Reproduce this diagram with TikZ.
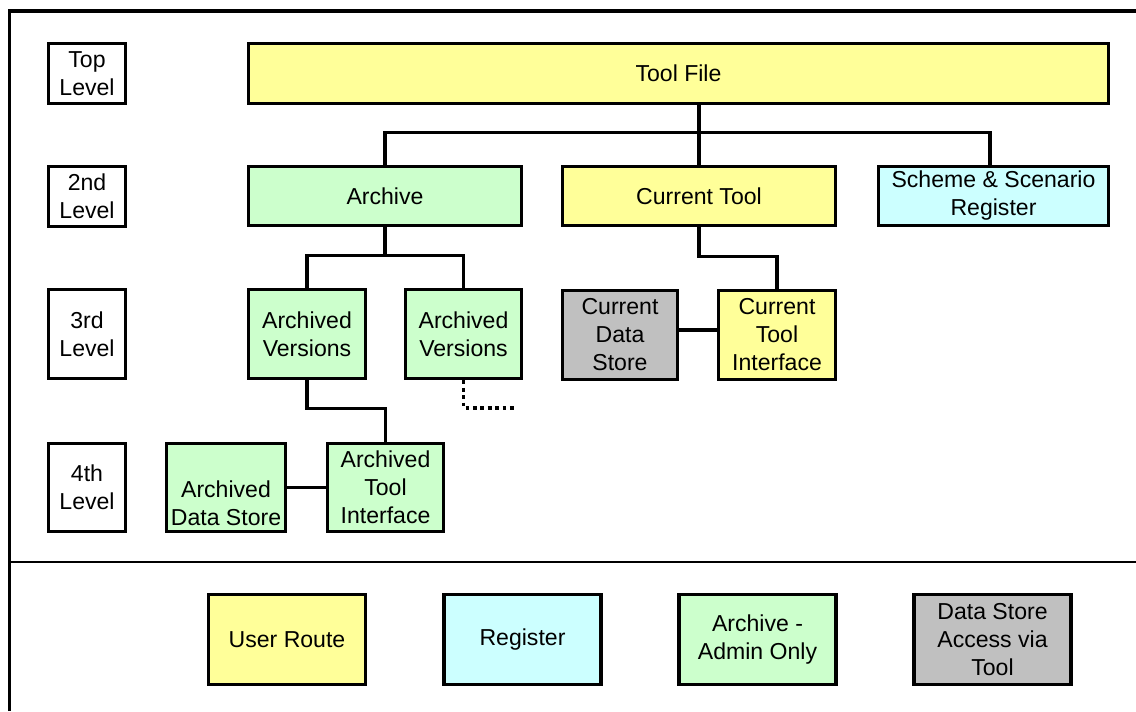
\documentclass[tikz,border=0pt]{standalone}
\usepackage{fontspec}
\setmainfont{Liberation Sans}
\newdimen\pxu \pxu=0.75pt
\definecolor{uyellow}{HTML}{FFFF99}
\definecolor{ugreen}{HTML}{CCFFCC}
\definecolor{ucyan}{HTML}{CCFFFF}
\definecolor{ugray}{HTML}{C0C0C0}
\tikzset{
  box/.style={draw=black, line width=3.8\pxu, inner sep=0pt, align=center,
    font=\fontsize{17.3pt}{21pt}\selectfont},
  lvl/.style={box, fill=white, minimum width=77\pxu},
  ybox/.style={box, fill=uyellow},
  gbox/.style={box, fill=ugreen},
  cbox/.style={box, fill=ucyan},
  grbox/.style={box, fill=ugray},
  conn/.style={draw=black, line width=3.8\pxu},
  dotconn/.style={draw=black, line width=3.8\pxu, dash pattern=on 3.8\pxu off 3.6\pxu},
  frameline/.style={draw=black, line width=3.8\pxu},
  sepline/.style={draw=black, line width=2.4\pxu},
}
\begin{document}
\begin{tikzpicture}[x=0.75pt,y=-0.75pt]
\useasboundingbox (0,0) rectangle (1136,711);
% frame
\coordinate (fbl) at (9.5,711);
\coordinate (ftl) at (9.5,11);
\coordinate (ftr) at (1136,11);
\coordinate (sl) at (9.5,562);
\coordinate (sr) at (1136,562);
\draw[frameline] (fbl) -- (ftl) -- (ftr);
\draw[sepline] (sl) -- (sr);
% level labels
\node[lvl, minimum height=60\pxu] (l1) at (87,73.5) {Top\\Level};
\node[lvl, minimum height=60\pxu] (l2) at (87,196.5) {2nd\\Level};
\node[lvl, minimum height=89\pxu] (l3) at (87,334) {3rd\\Level};
\node[lvl, minimum height=88\pxu] (l4) at (87,487.5) {4th\\Level};
% tree
\node[ybox, minimum width=860\pxu, minimum height=60\pxu] (tf) at (678.5,73.5) {Tool File};
\node[gbox, minimum width=273\pxu, minimum height=59\pxu] (ar) at (385,196) {Archive};
\node[ybox, minimum width=273\pxu, minimum height=59\pxu] (ct) at (699,196) {Current Tool};
\node[cbox, minimum width=230\pxu, minimum height=59\pxu] (sc) at (993.5,196) {Scheme \& Scenario\\Register};
\node[gbox, minimum width=117\pxu, minimum height=89\pxu] (av1) at (307,334) {Archived\\Versions};
\node[gbox, minimum width=116\pxu, minimum height=89\pxu] (av2) at (463.5,334) {Archived\\Versions};
\node[grbox, minimum width=115\pxu, minimum height=89\pxu] (cds) at (620,335) {Current\\Data\\Store};
\node[ybox, minimum width=117\pxu, minimum height=89\pxu] (cti) at (777,335) {Current\\Tool\\Interface};
\node[gbox, minimum width=119\pxu, minimum height=88\pxu] (ads) at (226,487.5) {\strut\\Archived\\Data Store};
\node[gbox, minimum width=116\pxu, minimum height=88\pxu] (ati) at (385.5,487.5) {Archived\\Tool\\Interface};
% legend
\node[ybox, minimum width=157\pxu, minimum height=90\pxu] (lg1) at (287,639.5) {User Route};
\node[cbox, minimum width=157\pxu, minimum height=90\pxu] (lg2) at (522.5,639.5) {Register};
\node[gbox, minimum width=157\pxu, minimum height=90\pxu] (lg3) at (757.5,639.5) {Archive -\\Admin Only};
\node[grbox, minimum width=157\pxu, minimum height=90\pxu] (lg4) at (992.5,639.5) {Data Store\\Access via\\Tool};
% connectors
\coordinate (j1) at (698,132.5);
\draw[conn] (ct.north |- tf.south) -- (ct.north);
\draw[conn] (ar.north) |- (j1) -| ([xshift=-3.5\pxu]sc.north);
\coordinate (j2) at (385,255.5);
\draw[conn] (ar.south) -- (j2);
\draw[conn] (av1.north) |- (j2) -| (av2.north);
\draw[conn] (ct.south) -- ++(0,29) -| (cti.north);
\draw[conn] ([yshift=5\pxu]cds.east) -- ([yshift=5\pxu]cti.west);
\draw[conn] (av1.south) -- ++(0,28) -| (ati.north);
\draw[conn] (ads.east) -- (ati.west);
\coordinate (dotend) at (515,408);
\draw[dotconn] (av2.south) |- (dotend);
\end{tikzpicture}
\end{document}
